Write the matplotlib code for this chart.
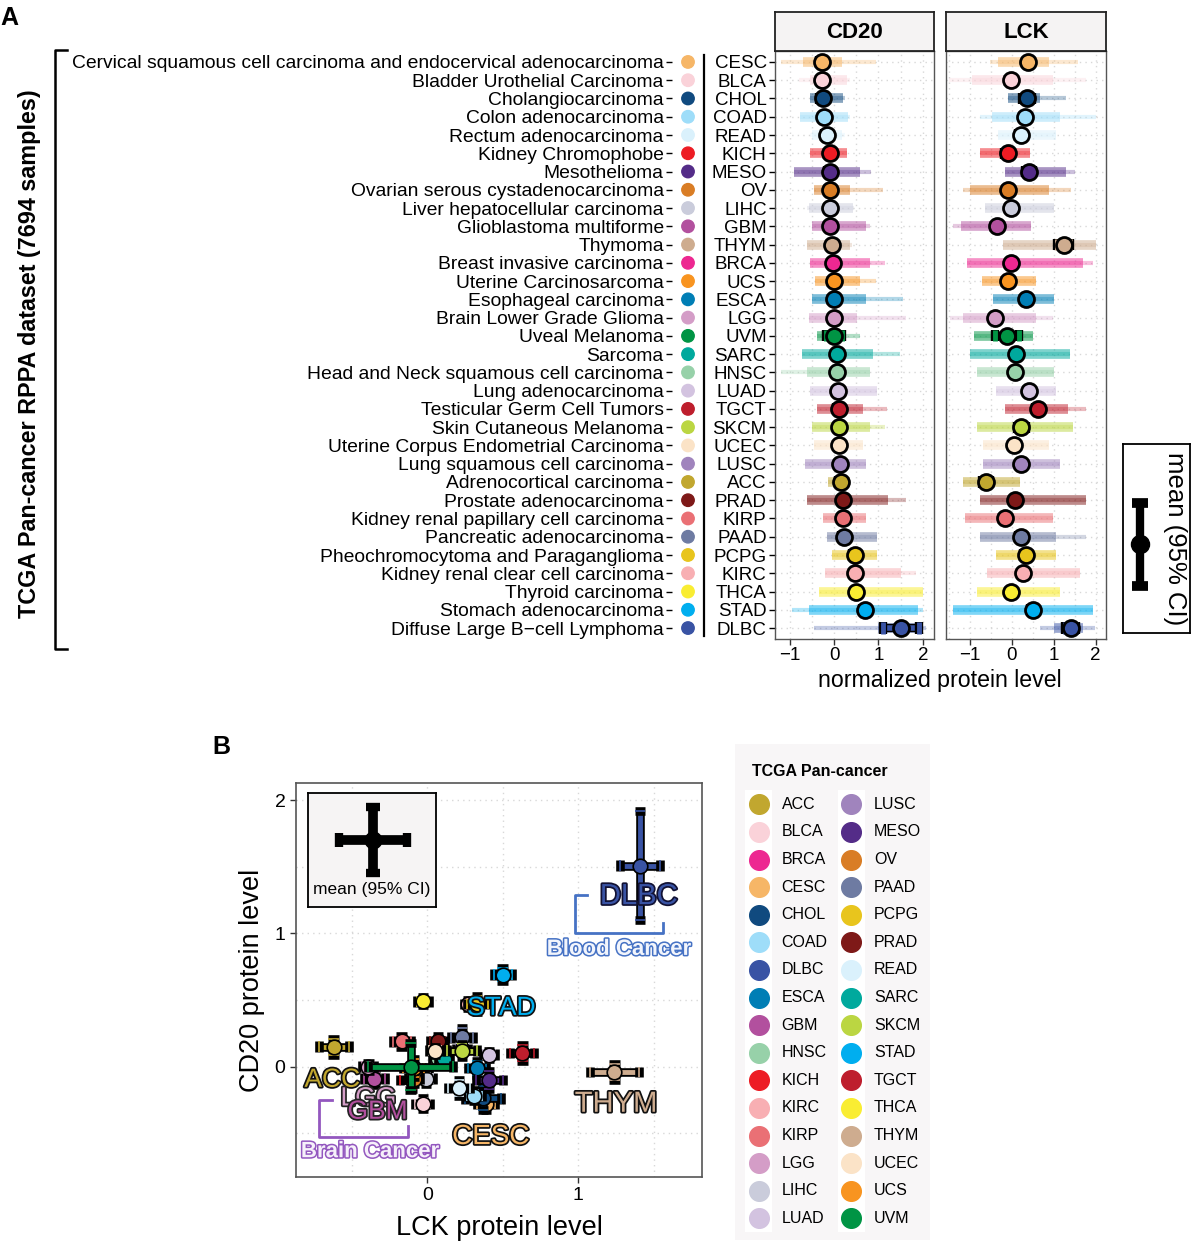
import numpy as np
import matplotlib.pyplot as plt
import matplotlib.patheffects as pe
from matplotlib.patches import Rectangle
from matplotlib.ticker import MultipleLocator

plt.rcParams['font.family'] = ['Liberation Sans', 'DejaVu Sans']

# ── Data ──────────────────────────────────────────────────────────────────────
abbrev = ['CESC', 'BLCA', 'CHOL', 'COAD', 'READ', 'KICH', 'MESO', 'OV', 'LIHC',
          'GBM', 'THYM', 'BRCA', 'UCS', 'ESCA', 'LGG', 'UVM', 'SARC', 'HNSC',
          'LUAD', 'TGCT', 'SKCM', 'UCEC', 'LUSC', 'ACC', 'PRAD', 'KIRP', 'PAAD',
          'PCPG', 'KIRC', 'THCA', 'STAD', 'DLBC']

full_name = ['Cervical squamous cell carcinoma and endocervical adenocarcinoma',
             'Bladder Urothelial Carcinoma', 'Cholangiocarcinoma',
             'Colon adenocarcinoma', 'Rectum adenocarcinoma', 'Kidney Chromophobe',
             'Mesothelioma', 'Ovarian serous cystadenocarcinoma',
             'Liver hepatocellular carcinoma', 'Glioblastoma multiforme', 'Thymoma',
             'Breast invasive carcinoma', 'Uterine Carcinosarcoma',
             'Esophageal carcinoma', 'Brain Lower Grade Glioma', 'Uveal Melanoma',
             'Sarcoma', 'Head and Neck squamous cell carcinoma',
             'Lung adenocarcinoma', 'Testicular Germ Cell Tumors',
             'Skin Cutaneous Melanoma', 'Uterine Corpus Endometrial Carcinoma',
             'Lung squamous cell carcinoma', 'Adrenocortical carcinoma',
             'Prostate adenocarcinoma', 'Kidney renal papillary cell carcinoma',
             'Pancreatic adenocarcinoma', 'Pheochromocytoma and Paraganglioma',
             'Kidney renal clear cell carcinoma', 'Thyroid carcinoma',
             'Stomach adenocarcinoma', 'Diffuse Large B\u2212cell Lymphoma']

tcga_colors = {
    'ACC': '#C1A72F', 'BLCA': '#FAD2D9', 'BRCA': '#ED2891', 'CESC': '#F6B667',
    'CHOL': '#104A7F', 'COAD': '#9EDDF9', 'DLBC': '#3953A4', 'ESCA': '#007EB5',
    'GBM': '#B2509E', 'HNSC': '#97D1A9', 'KICH': '#ED1C24', 'KIRC': '#F8AFB3',
    'KIRP': '#EA7075', 'LGG': '#D49DC7', 'LIHC': '#CACCDB', 'LUAD': '#D3C3E0',
    'LUSC': '#A084BD', 'MESO': '#542C88', 'OV': '#D97D25', 'PAAD': '#6E7BA2',
    'PCPG': '#E8C51D', 'PRAD': '#7E1918', 'READ': '#DAF1FC', 'SARC': '#00A99D',
    'SKCM': '#BBD642', 'STAD': '#00AEEF', 'TGCT': '#BE1E2D', 'THCA': '#F9ED32',
    'THYM': '#CEAC8F', 'UCEC': '#FBE3C7', 'UCS': '#F89420', 'UVM': '#009444',
}

# means and 95% CI half-widths
cd20_mean = [-0.28, -0.28, -0.24, -0.22, -0.16, -0.10, -0.10, -0.09, -0.09, -0.09,
             -0.04, -0.03, -0.01, -0.01, 0.00, 0.00, 0.06, 0.06, 0.09, 0.10,
             0.12, 0.12, 0.13, 0.15, 0.19, 0.19, 0.22, 0.47, 0.47, 0.49, 0.69, 1.51]
cd20_ci = [0.05, 0.04, 0.09, 0.04, 0.06, 0.07, 0.07, 0.04, 0.04, 0.05,
           0.06, 0.02, 0.07, 0.05, 0.03, 0.18, 0.04, 0.03, 0.03, 0.06,
           0.05, 0.03, 0.03, 0.06, 0.04, 0.04, 0.07, 0.06, 0.03, 0.03, 0.05, 0.41]
lck_mean = [0.39, -0.03, 0.37, 0.31, 0.21, -0.10, 0.41, -0.09, -0.01, -0.35,
            1.24, -0.02, -0.09, 0.33, -0.39, -0.11, 0.11, 0.07, 0.41, 0.63,
            0.23, 0.05, 0.23, -0.62, 0.07, -0.17, 0.23, 0.33, 0.27, -0.03, 0.50, 1.41]
lck_ci = [0.06, 0.05, 0.12, 0.05, 0.07, 0.08, 0.09, 0.04, 0.05, 0.07,
          0.16, 0.03, 0.07, 0.06, 0.04, 0.28, 0.04, 0.04, 0.04, 0.08,
          0.10, 0.04, 0.04, 0.10, 0.05, 0.06, 0.07, 0.07, 0.03, 0.04, 0.06, 0.13]

# spread of individual samples: dense core and full extent
cd20_core = [(-0.69, 0.17), (-0.54, 0.28), (-0.54, 0.21), (-0.76, 0.32), (-0.50, 0.17),
             (-0.54, 0.28), (-0.90, 0.58), (-0.46, 0.36), (-0.57, 0.43), (-0.50, 0.73),
             (-0.61, 0.36), (-0.54, 0.80), (-0.43, 0.58), (-0.50, 0.73), (-0.57, 0.51),
             (-0.39, 0.10), (-0.72, 0.88), (-0.61, 0.80), (-0.54, 0.96), (-0.39, 0.66),
             (-0.50, 0.80), (-0.46, 0.66), (-0.65, 0.73), (-0.13, 0.36), (-0.61, 1.22),
             (-0.24, 0.73), (-0.16, 0.96), (-0.05, 0.96), (-0.20, 1.50), (-0.35, 2.00),
             (-0.57, 1.90), (1.00, 2.00)]
cd20_full = [(-1.20, 0.95), (-0.80, 0.36), (-0.54, 0.25), (-0.76, 0.36), (-0.55, 0.25),
             (-0.54, 0.30), (-0.90, 0.84), (-0.46, 1.10), (-0.60, 0.45), (-0.50, 0.80),
             (-0.61, 0.40), (-0.54, 1.14), (-0.43, 0.95), (-0.50, 1.55), (-0.57, 1.63),
             (-0.39, 0.58), (-0.72, 1.48), (-1.20, 0.80), (-0.54, 0.96), (-0.39, 1.20),
             (-0.50, 1.14), (-0.46, 0.66), (-0.65, 0.73), (-0.13, 0.36), (-0.61, 1.63),
             (-0.24, 0.73), (-0.16, 0.96), (-0.05, 0.96), (-0.20, 1.85), (-0.35, 2.00),
             (-0.95, 2.00), (-0.46, 2.07)]
lck_core = [(-0.33, 0.90), (-0.96, 0.98), (-0.10, 0.67), (-0.48, 1.14), (-0.33, 1.06),
            (-0.76, 0.43), (-0.17, 1.30), (-1.00, 0.90), (-0.64, 1.02), (-1.20, 0.47),
            (-0.21, 2.00), (-1.08, 1.70), (-0.72, 0.59), (-0.44, 1.02), (-1.16, 0.59),
            (-0.90, 0.50), (-1.00, 1.38), (-0.84, 1.02), (-0.37, 1.06), (-0.17, 1.34),
            (-0.84, 1.46), (-0.68, 0.90), (-0.68, 1.14), (-1.16, 0.19), (-0.76, 1.78),
            (-1.12, 0.98), (-0.76, 1.06), (-0.37, 1.06), (-0.60, 1.62), (-0.84, 1.14),
            (-1.40, 1.94), (1.00, 1.70)]
lck_full = [(-0.52, 1.58), (-1.50, 1.78), (-0.10, 1.30), (-0.76, 2.00), (-0.33, 1.06),
            (-0.76, 0.43), (-0.17, 1.50), (-1.16, 1.42), (-0.64, 1.02), (-1.40, 0.47),
            (-0.21, 2.00), (-1.08, 1.94), (-0.72, 0.59), (-0.44, 1.02), (-1.48, 0.98),
            (-0.90, 0.50), (-1.00, 1.38), (-0.84, 1.02), (-0.37, 1.06), (-0.17, 1.78),
            (-0.84, 1.46), (-0.68, 0.90), (-0.68, 1.14), (-1.16, 0.19), (-0.76, 1.78),
            (-1.12, 0.98), (-0.76, 1.78), (-0.37, 1.06), (-0.60, 1.62), (-0.84, 1.14),
            (-1.40, 1.94), (0.67, 1.98)]

n = len(abbrev)
rows = np.arange(1, n + 1)
colors = [tcga_colors[a] for a in abbrev]

# ── Figure ────────────────────────────────────────────────────────────────────
W, H = 1191, 1247
fig = plt.figure(figsize=(W / 100, H / 100), dpi=100)


def fax(x0, y0, x1, y1, **kw):
    """axes from a pixel box (top-left origin)"""
    return fig.add_axes([x0 / W, 1 - y1 / H, (x1 - x0) / W, (y1 - y0) / H], **kw)


def outline(eb, lw):
    stroke = [pe.withStroke(linewidth=lw, foreground='black')]
    for art in list(eb[1]) + list(eb[2]):
        art.set_path_effects(stroke)


GRID = dict(color='#d8d8d8', linestyle=(0, (1, 3)), linewidth=1)

# ── Panel A: dot-plot facets ──────────────────────────────────────────────────
def draw_facet(ax, mean, ci, core, full, xlim):
    for i in range(n):
        y = rows[i]
        c = colors[i]
        ax.plot(full[i], [y, y], color=c, lw=3, alpha=0.3,
                solid_capstyle='butt', zorder=2)
        ax.plot(core[i], [y, y], color=c, lw=7, alpha=0.5,
                solid_capstyle='butt', zorder=2)
        eb = ax.errorbar(mean[i], y, xerr=ci[i], fmt='none', ecolor=c,
                         elinewidth=4, capsize=4, capthick=3.5, zorder=3)
        outline(eb, 6)
        ax.plot(mean[i], y, 'o', ms=11.5, mfc=c, mec='black', mew=2, zorder=4)
    ax.set_xlim(*xlim)
    ax.set_ylim(n + 0.6, 0.4)
    ax.set_xticks([-1, 0, 1, 2])
    ax.xaxis.set_minor_locator(MultipleLocator(0.5))
    ax.set_yticks(rows)
    ax.grid(True, which='both', **GRID)
    ax.set_axisbelow(True)
    ax.tick_params(axis='x', labelsize=13.5, length=4, width=1, pad=2,
                   colors='#333333', labelcolor='black')
    ax.tick_params(which='minor', length=0)
    for s in ax.spines.values():
        s.set_color('#555555')
        s.set_linewidth(1)


ax_cd20 = fax(775, 51, 934, 639)
draw_facet(ax_cd20, cd20_mean, cd20_ci, cd20_core, cd20_full, (-1.33, 2.25))
ax_cd20.set_yticklabels(abbrev, fontsize=13.5)
ax_cd20.tick_params(axis='y', length=4, width=1, pad=2)

ax_lck = fax(946, 51, 1106, 639)
draw_facet(ax_lck, lck_mean, lck_ci, lck_core, lck_full, (-1.57, 2.25))
ax_lck.tick_params(axis='y', left=False, labelleft=False)

for x0, x1, title in [(775, 934, 'CD20'), (946, 1106, 'LCK')]:
    sax = fax(x0, 12, x1, 51)
    sax.set_facecolor('#F5F3F3')
    sax.set_xticks([])
    sax.set_yticks([])
    for s in sax.spines.values():
        s.set_color('#222222')
        s.set_linewidth(1.3)
    sax.text(0.5, 0.48, title, ha='center', va='center', fontsize=16,
             fontweight='bold', transform=sax.transAxes)

# colour-key column with the full cancer names
ax_dot = fax(672, 51, 704, 639)
ax_dot.scatter(np.full(n, 0.5), rows, s=80, c=colors, zorder=3)
ax_dot.set_xlim(0, 1)
ax_dot.set_ylim(n + 0.6, 0.4)
ax_dot.set_xticks([])
ax_dot.set_yticks(rows)
ax_dot.set_yticklabels(full_name, fontsize=13.85)
ax_dot.tick_params(axis='y', length=4, width=1, pad=2)
ax_dot.patch.set_visible(False)
for side in ['left', 'top', 'bottom']:
    ax_dot.spines[side].set_visible(False)
ax_dot.spines['right'].set_linewidth(1.6)
ax_dot.spines['right'].set_bounds(0.62, n + 0.43)

# mean (95% CI) key for panel A
ax_key = fax(1123, 444, 1190, 633)
ax_key.errorbar(0.26, 0.47, yerr=0.22, fmt='o', color='black', ms=13,
                elinewidth=6, capsize=6, capthick=7)
ax_key.text(0.78, 0.5, 'mean (95% CI)', rotation=270, ha='center', va='center',
            fontsize=18.5, transform=ax_key.transAxes)
ax_key.set_xlim(0, 1)
ax_key.set_ylim(0, 1)
ax_key.set_xticks([])
ax_key.set_yticks([])
for s in ax_key.spines.values():
    s.set_linewidth(1.3)

# ── Panel B: CD20 vs LCK ──────────────────────────────────────────────────────
axB = fax(296, 783, 702, 1177)
for k, ab in enumerate(sorted(abbrev)):
    i = abbrev.index(ab)
    c = tcga_colors[ab]
    eb = axB.errorbar(lck_mean[i], cd20_mean[i], xerr=lck_ci[i], yerr=cd20_ci[i],
                      fmt='o', color=c, ms=10.5, mec='black', mew=1.2,
                      elinewidth=3.5, capsize=3.8, capthick=4.5, zorder=3 + 0.2 * k)
    outline(eb, 6.2)

axB.set_xlim(-0.87, 1.82)
axB.set_ylim(-0.83, 2.13)
axB.set_xticks([0, 1])
axB.set_yticks([0, 1, 2])
axB.xaxis.set_minor_locator(MultipleLocator(0.5))
axB.yaxis.set_minor_locator(MultipleLocator(0.5))
axB.grid(True, which='both', **GRID)
axB.set_axisbelow(True)
axB.tick_params(labelsize=14, length=4, width=1, colors='#333333', labelcolor='black')
axB.tick_params(which='minor', length=0)
for s in axB.spines.values():
    s.set_color('#555555')
    s.set_linewidth(1.2)


def tag(x, y, s, fc, ec, size=19, weight='normal', lw=2.5):
    axB.text(x, y, s, color=fc, fontsize=size, fontweight=weight, ha='center',
             va='center', zorder=20,
             path_effects=[pe.withStroke(linewidth=lw, foreground=ec)])


tag(1.40, 1.28, 'DLBC', tcga_colors['DLBC'], '#111133', size=21)
tag(0.49, 0.44, 'STAD', tcga_colors['STAD'], '#111111')
tag(-0.63, -0.10, 'ACC', tcga_colors['ACC'], '#111111')
tag(-0.39, -0.24, 'LGG', tcga_colors['LGG'], '#222222')
tag(-0.33, -0.34, 'GBM', tcga_colors['GBM'], '#222222')
tag(0.42, -0.53, 'CESC', tcga_colors['CESC'], '#111111', size=20)
tag(1.25, -0.28, 'THYM', tcga_colors['THYM'], '#111111', size=21)
tag(1.27, 0.88, 'Blood Cancer', '#F2F5FC', '#4672C4', size=16, weight='bold', lw=2.2)
tag(-0.38, -0.64, 'Brain Cancer', '#F6F0FA', '#9357BF', size=16, weight='bold', lw=2.2)

axB.plot([1.06, 0.978, 0.978, 1.563, 1.563], [1.29, 1.29, 1.0, 1.0, 1.08],
         color='#4672C4', lw=2, zorder=19)
axB.plot([-0.63, -0.717, -0.717, -0.13, -0.13], [-0.25, -0.25, -0.53, -0.53, -0.45],
         color='#9357BF', lw=2, zorder=19)

# inset key
ax_in = fax(308, 793, 436, 907)
ax_in.set_facecolor('#F6F4F4')
ax_in.errorbar(0.51, 0.59, xerr=0.266, yerr=0.29, fmt='o', color='black', ms=12,
               elinewidth=7, capsize=4.7, capthick=6)
ax_in.text(0.5, 0.15, 'mean (95% CI)', ha='center', va='center', fontsize=12.5,
           transform=ax_in.transAxes)
ax_in.set_xlim(0, 1)
ax_in.set_ylim(0, 1)
ax_in.set_xticks([])
ax_in.set_yticks([])
for s in ax_in.spines.values():
    s.set_linewidth(1.3)

# ── Overlay: labels, brackets, legend ─────────────────────────────────────────
ov = fig.add_axes([0, 0, 1, 1], zorder=5)
ov.set_xlim(0, W)
ov.set_ylim(H, 0)
ov.axis('off')

ov.text(0, 18, 'A', fontsize=18, fontweight='bold', ha='left', va='center')
ov.text(212, 747, 'B', fontsize=18, fontweight='bold', ha='left', va='center')

ov.plot([67, 55, 55, 67], [50, 50, 649, 649], color='black', lw=1.8)
ov.text(30, 354, 'TCGA Pan-cancer RPPA dataset (7694 samples)', rotation=90,
        ha='center', va='center', fontsize=16.8, fontweight='bold')
ov.text(940, 681, 'normalized protein level', ha='center', va='center', fontsize=16.7)

ov.text(499, 1228, 'LCK protein level', ha='center', va='center', fontsize=19.5)
ov.text(252, 980, 'CD20 protein level', rotation=90, ha='center', va='center',
        fontsize=19.5)

# legend of panel B
ov.add_patch(Rectangle((735, 744), 195, 496, facecolor='#F8F6F7', edgecolor='none'))
ov.add_patch(Rectangle((745, 790), 27, 442, facecolor='white', edgecolor='none'))
ov.add_patch(Rectangle((838, 790), 27, 442, facecolor='white', edgecolor='none'))
ov.text(752, 771, 'TCGA Pan-cancer', fontsize=11.5, fontweight='bold',
        ha='left', va='center')
leg_names = sorted(abbrev)
for j, ab in enumerate(leg_names):
    col, r = divmod(j, 16)
    xd = 758.5 + col * 92.5
    yd = 804.3 + r * 27.6
    ov.scatter(xd, yd, s=200, color=tcga_colors[ab], zorder=3)
    ov.text(xd + 23, yd, ab, fontsize=11.5, ha='left', va='center')

fig.savefig('out.png', dpi=100)
